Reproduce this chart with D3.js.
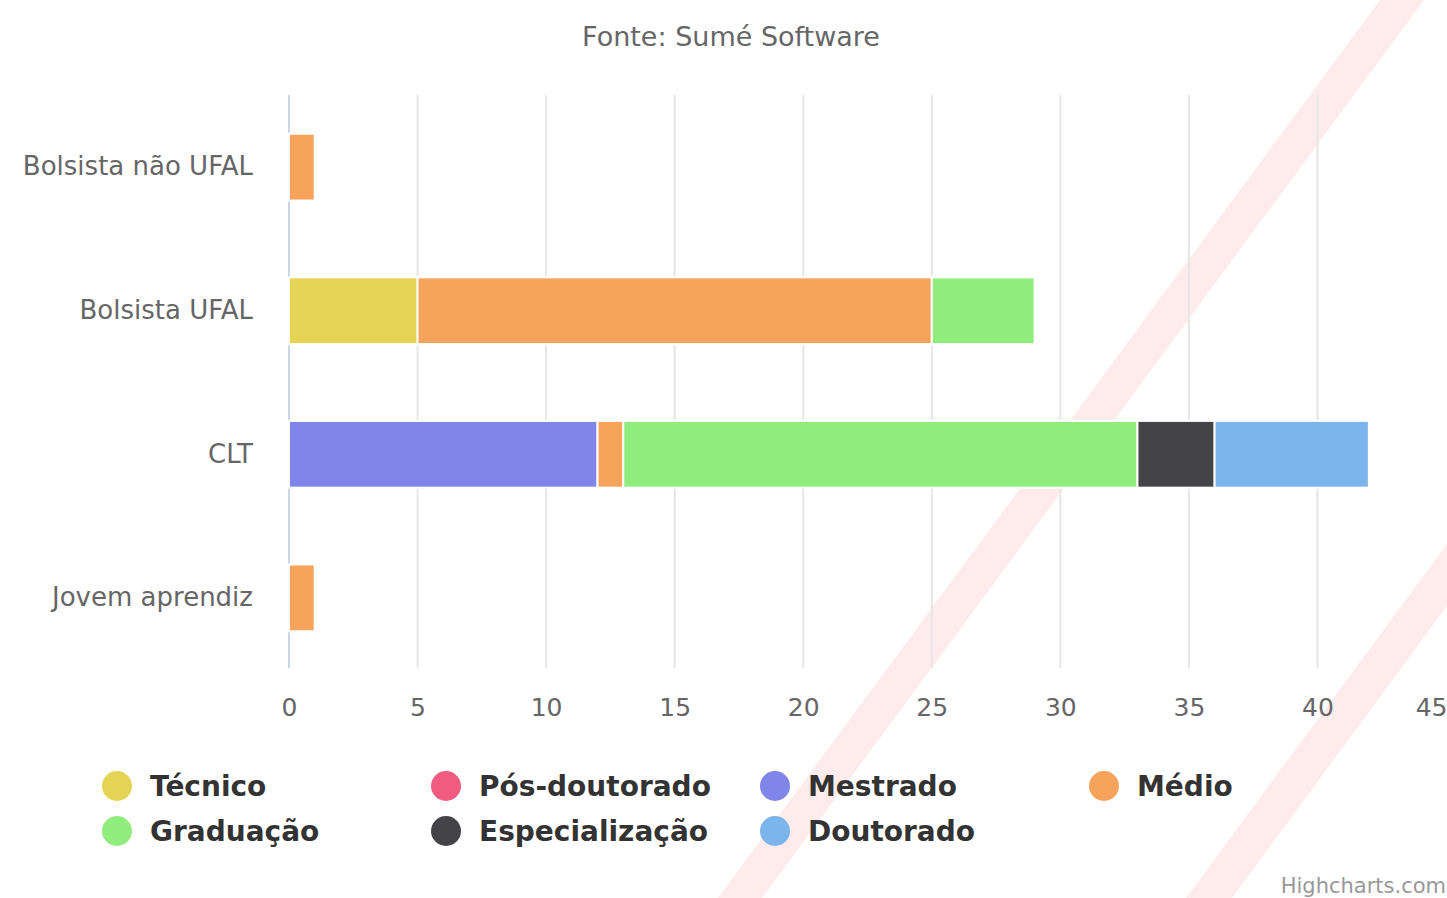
<!DOCTYPE html>
<html>
<head>
<meta charset="utf-8">
<script src="https://cdn.jsdelivr.net/npm/d3@7"></script>
<style>
  body { margin: 0; background: #fff; }
  svg { display: block; font-family: "DejaVu Sans", sans-serif; }
</style>
</head>
<body>
<div id="chart"></div>
<script>
// Vínculo x escolaridade - stacked horizontal bars

var categories = ["Bolsista não UFAL", "Bolsista UFAL", "CLT", "Jovem aprendiz"];
var seriesNames = ["Técnico", "Pós-doutorado", "Mestrado", "Médio", "Graduação", "Especialização", "Doutorado"];
var seriesColors = ["#e4d354", "#f15c80", "#8085e9", "#f7a35c", "#90ed7d", "#434348", "#7cb5ec"];

// one value per category, same order as categories
var tecnico        = [0, 5, 0, 0];
var posDoutorado   = [0, 0, 0, 0];
var mestrado       = [0, 0, 12, 0];
var medio          = [1, 20, 1, 1];
var graduacao      = [0, 4, 20, 0];
var especializacao = [0, 0, 3, 0];
var doutorado      = [0, 0, 6, 0];

var xTicks = [0, 5, 10, 15, 20, 25, 30, 35, 40, 45];

var param = {
    width: 1447,
    height: 898,
    left: 289,
    right: 1446,
    top: 95,
    bottom: 670
};

var seriesValues = [tecnico, posDoutorado, mestrado, medio, graduacao, especializacao, doutorado];

var rows = categories.map(function(c, i){
    var r = {cat: c};
    seriesNames.forEach(function(s, j){ r[s] = seriesValues[j][i]; });
    return r;
});

var svg = d3.select("#chart").append("svg")
    .attr("width", param.width)
    .attr("height", param.height);

// background diagonal stripes (page decoration)
var stripes = svg.append("g").attr("fill", "#fdeceb");
stripes.append("polygon").attr("points", "718,898 762,898 1424,0 1380,0");
stripes.append("polygon").attr("points", "1186,898 1232,898 1447,606 1447,544");

var x = d3.scaleLinear().domain([0, 45]).range([param.left, param.right]);
var y = d3.scaleBand().domain(categories).range([param.top, param.bottom]).paddingInner(0.535).paddingOuter(0.27);

// grid
svg.append("g").selectAll("line").data(xTicks.slice(1, -1)).join("line")
    .attr("x1", function(d){ return x(d); })
    .attr("x2", function(d){ return x(d); })
    .attr("y1", param.top)
    .attr("y2", param.bottom - 2)
    .attr("stroke", "#e6e6e6")
    .attr("stroke-width", 2);

// axis line
svg.append("line")
    .attr("x1", x(0)).attr("x2", x(0))
    .attr("y1", param.top).attr("y2", param.bottom - 2)
    .attr("stroke", "#ccd6eb").attr("stroke-width", 2);

// bars
var stack = d3.stack().keys(seriesNames)(rows);
svg.append("g").selectAll("g").data(stack).join("g")
    .attr("fill", function(d, i){ return seriesColors[i]; })
    .selectAll("rect").data(function(d){ return d.filter(function(p){ return p[1] > p[0]; }); }).join("rect")
    .attr("x", function(d){ return x(d[0]); })
    .attr("width", function(d){ return x(d[1]) - x(d[0]); })
    .attr("y", function(d){ return y(d.data.cat); })
    .attr("height", y.bandwidth())
    .attr("stroke", "#ffffff")
    .attr("stroke-width", 2);

// x axis
var xAxis = svg.append("g")
    .attr("transform", "translate(0," + param.bottom + ")")
    .call(d3.axisBottom(x).tickValues(xTicks).tickSize(0).tickPadding(28));
xAxis.select(".domain").remove();
xAxis.selectAll("text")
    .attr("fill", "#666666")
    .style("font-size", "25px")
    .style("font-family", "DejaVu Sans, sans-serif");
// last label is pulled inside the page, as in the original
xAxis.selectAll(".tick").filter(function(d){ return d === 45; }).select("text")
    .attr("text-anchor", "end").attr("x", 1);

// y axis
var yAxis = svg.append("g")
    .attr("transform", "translate(" + param.left + ",0)")
    .call(d3.axisLeft(y).tickSize(0).tickPadding(36));
yAxis.select(".domain").remove();
yAxis.selectAll("text")
    .attr("fill", "#666666")
    .style("font-size", "26px")
    .style("font-family", "DejaVu Sans, sans-serif");

// title
svg.append("text")
    .attr("x", 731).attr("y", 46)
    .attr("text-anchor", "middle")
    .attr("fill", "#666666")
    .style("font-size", "27px")
    .text("Fonte: Sumé Software");

// legend
var legend = svg.append("g").selectAll("g").data(seriesNames).join("g")
    .attr("transform", function(d, i){
        return "translate(" + (117 + (i % 4) * 329) + "," + (786 + Math.floor(i / 4) * 45) + ")";
    });
legend.append("circle")
    .attr("r", 15)
    .attr("fill", function(d, i){ return seriesColors[i]; });
legend.append("text")
    .attr("x", 33).attr("y", 10)
    .attr("fill", "#333333")
    .style("font-size", "28px")
    .style("font-weight", "bold")
    .text(function(d){ return d; });

// credits
svg.append("text")
    .attr("x", 1446).attr("y", 893)
    .attr("text-anchor", "end")
    .attr("fill", "#999999")
    .style("font-size", "21px")
    .text("Highcharts.com");
</script>
</body>
</html>
